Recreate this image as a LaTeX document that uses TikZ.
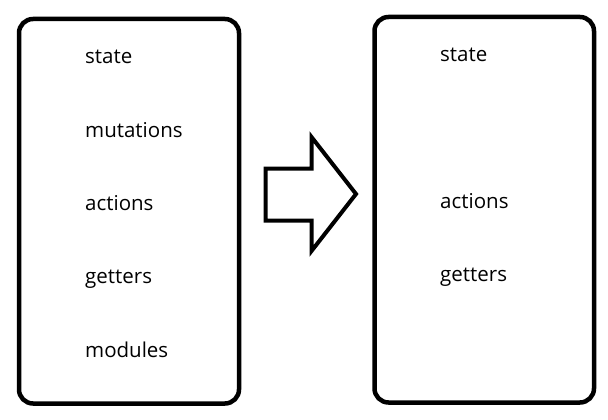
\documentclass[tikz,border=0pt]{standalone}
\usepackage{fontspec}
\setmainfont{Open Sans}
\usetikzlibrary{positioning}

\tikzset{
  box/.style={line width=4.5pt, rounded corners=14pt},
  item/.style={anchor=base west, inner sep=0pt, font=\fontsize{20.5}{23}\selectfont}
}

\begin{document}
\begin{tikzpicture}[x=1pt, y=-1pt, line join=miter]
            \useasboundingbox (0,0) rectangle (608,420);

            % linka kasten
            \draw[box] (19, 19) rectangle (239, 403.5);
            \node[item] (stateL) at (85, 64) {state};
            \node[item] (mutationsL) at (85, 137) {mutations};
            \node[item] (actionsL) at (85, 210) {actions};
            \node[item] (gettersL) at (85, 283) {getters};
            \node[item] (modulesL) at (85, 357) {modules};

            % pfeil
            \draw[line width=4pt] (265.5, 168.5) -- (311.5, 168.5) -- (311.5, 137) -- (356, 194)
                  -- (311.5, 251) -- (311.5, 220.5) -- (265.5, 220.5) -- cycle;

            % rechter kasten
            \draw[box] (374.5, 17) rectangle (594, 402.5);
            \node[item] (stateR) at (440, 62) {state};
            \node[item] (actionsR) at (440, 208) {actions};
            \node[item] (gettersR) at (440, 281) {getters};

\end{tikzpicture}
\end{document}
